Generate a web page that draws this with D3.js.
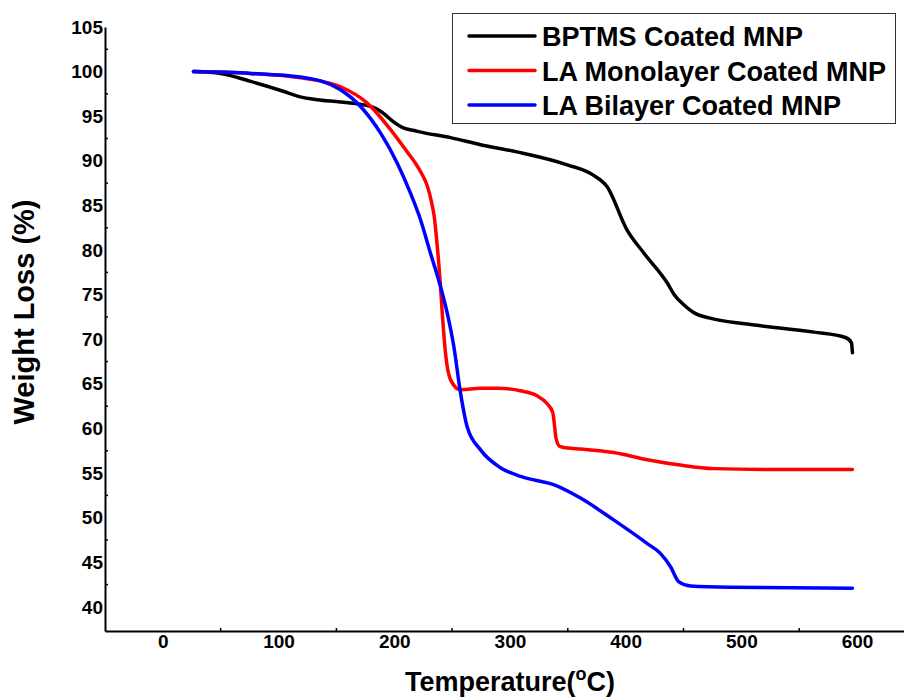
<!DOCTYPE html>
<html>
<head>
<meta charset="utf-8">
<script src="https://cdn.jsdelivr.net/npm/d3@7"></script>
<style>
  body { margin: 0; background: #fff; }
  text { font-family: "Liberation Sans", Arial, sans-serif; font-weight: bold; }
</style>
</head>
<body>
<div id="chart"></div>
<script>
// series: temperature (°C) and weight (%)
const bptmsT = [26.5, 50, 75.8, 104, 118, 133.5, 153.6, 179.5, 191, 198, 205.4, 220, 248.7, 274.6, 306, 349.5, 372, 384, 401, 415.5, 436, 442, 450, 460, 472, 505, 562.7, 590, 595.2, 596];
const bptmsW = [100, 99.8, 98.9, 97.8, 97.2, 96.85, 96.6, 96.1, 95.3, 94.5, 93.85, 93.3, 92.6, 91.8, 91.0, 89.55, 88.4, 87.1, 82.3, 79.7, 76.3, 75.0, 73.9, 72.9, 72.4, 71.7, 70.8, 70.2, 69.6, 68.5];

const monoT = [26.5, 75.8, 119, 153.6, 176.7, 196.8, 211.2, 218, 224, 228.5, 232, 234.5, 237.2, 240, 241.5, 244.3, 248.7, 257.3, 274.6, 290, 310, 323, 332, 337, 340, 343, 350, 361, 389.6, 418.7, 447, 476, 534, 596];
const monoW = [100, 99.8, 99.3, 98.3, 96.47, 93.5, 91.0, 89.8, 88.5, 87.2, 85.5, 83.8, 80.4, 75.9, 72.93, 68.44, 65.45, 64.33, 64.5, 64.5, 64.2, 63.7, 62.8, 61.8, 58.8, 58.0, 57.8, 57.7, 57.3, 56.5, 55.9, 55.5, 55.4, 55.4];

const biT = [26.5, 75.8, 119, 153.6, 170.9, 188.2, 202.6, 214, 222.7, 231.3, 240, 245.8, 251.5, 257.3, 263, 274.6, 291.8, 310, 340, 361, 389.6, 418.7, 430, 438.8, 446, 456, 490.6, 596];
const biW = [100, 99.8, 99.4, 97.96, 96.09, 93.1, 89.74, 86.38, 83.4, 79.65, 75.9, 72.93, 69.18, 63.96, 60.2, 57.6, 55.6, 54.6, 53.6, 52.2, 49.75, 47.1, 46.0, 44.5, 42.8, 42.35, 42.2, 42.1];

const seriesNames = ["BPTMS Coated MNP", "LA Monolayer Coated MNP", "LA Bilayer Coated MNP"];
const seriesColors = ["#000000", "#ff0000", "#0000ff"];

const xTicks = [0, 100, 200, 300, 400, 500, 600];
const yTicks = [40, 45, 50, 55, 60, 65, 70, 75, 80, 85, 90, 95, 100, 105];

const width = 904, height = 698;
const svg = d3.select('#chart').append('svg')
  .attr('width', width)
  .attr('height', height);

const x = d3.scaleLinear().domain([-50, 650]).range([105, 105 + 700 * 1.157]);
const y = d3.scaleLinear().domain([37.3, 105]).range([631, 27]);

const series = [
  { T: bptmsT, W: bptmsW },
  { T: monoT, W: monoW },
  { T: biT, W: biW }
];

const line = d3.line()
  .x(d => x(d[0]))
  .y(d => y(d[1]))
  .curve(d3.curveMonotoneX);

// curves
series.forEach((s, i) => {
  svg.append('path')
    .datum(s.T.map((t, j) => [t, s.W[j]]))
    .attr('d', line)
    .attr('fill', 'none')
    .attr('stroke', seriesColors[i])
    .attr('stroke-width', 3.5)
    .attr('stroke-linecap', 'round')
    .attr('stroke-linejoin', 'round');
});

// axes
const xAxis = svg.append('g')
  .attr('transform', `translate(0, ${y(37.3)})`)
  .call(d3.axisBottom(x).tickValues(xTicks).tickSize(0).tickPadding(3));
const yAxis = svg.append('g')
  .attr('transform', `translate(${x(-50)}, 0)`)
  .call(d3.axisLeft(y).tickValues(yTicks).tickSize(0).tickPadding(2));

[xAxis, yAxis].forEach(g => {
  g.select('.domain').attr('stroke', '#000').attr('stroke-width', 2);
  g.selectAll('text').attr('font-size', 19).attr('fill', '#000')
    .attr('font-family', '"Liberation Sans", Arial, sans-serif').attr('font-weight', 'bold');
});

// minor ticks
svg.append('g').selectAll('line')
  .data(d3.range(42.5, 105, 5))
  .enter().append('line')
  .attr('x1', x(-50)).attr('x2', x(-50) + 3)
  .attr('y1', d => y(d)).attr('y2', d => y(d))
  .attr('stroke', '#000').attr('stroke-width', 1.5);
svg.append('g').selectAll('line')
  .data(d3.range(50, 650, 100))
  .enter().append('line')
  .attr('x1', d => x(d)).attr('x2', d => x(d))
  .attr('y1', y(37.3)).attr('y2', y(37.3) - 3)
  .attr('stroke', '#000').attr('stroke-width', 1.5);

// axis titles
svg.append('text')
  .attr('transform', `translate(34, 312) rotate(-90)`)
  .attr('text-anchor', 'middle')
  .attr('font-size', 29)
  .text('Weight Loss (%)');

const xt = svg.append('text')
  .attr('x', 510).attr('y', 691)
  .attr('text-anchor', 'middle')
  .attr('font-size', 27);
xt.append('tspan').text('Temperature(');
xt.append('tspan').attr('dy', -11).attr('font-size', 18).text('o');
xt.append('tspan').attr('dy', 11).text('C)');

// legend
const legend = svg.append('g');
legend.append('rect')
  .attr('x', 452.5).attr('y', 13.5)
  .attr('width', 443).attr('height', 110)
  .attr('fill', '#fff').attr('stroke', '#333').attr('stroke-width', 1);
seriesNames.forEach((name, i) => {
  const ly = 36 + i * 34.5;
  legend.append('line')
    .attr('x1', 469).attr('x2', 535)
    .attr('y1', ly).attr('y2', ly)
    .attr('stroke', seriesColors[i]).attr('stroke-width', 3.5)
    .attr('stroke-linecap', 'round');
  legend.append('text')
    .attr('x', 542).attr('y', ly + 10)
    .attr('font-size', 27)
    .text(name);
});
</script>
</body>
</html>
